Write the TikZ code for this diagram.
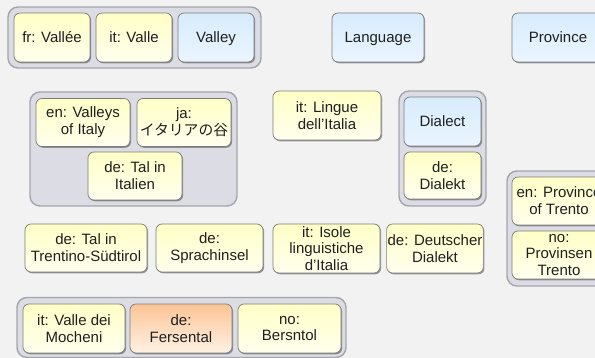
\documentclass[tikz,border=0pt]{standalone}
\usepackage{fontspec}
\setmainfont{Liberation Sans}
\newfontfamily\jafont{Noto Sans CJK JP}
\usetikzlibrary{shadows}
\definecolor{bg}{HTML}{F2F2F2}
\definecolor{ytop}{HTML}{FFFFC6}
\definecolor{ybot}{HTML}{FFFFEE}
\definecolor{btop}{HTML}{D8ECFC}
\definecolor{bbot}{HTML}{EAF5FF}
\definecolor{otop}{HTML}{FCC496}
\definecolor{obot}{HTML}{FFF2E4}
\definecolor{gfill}{HTML}{DCDCE4}
\definecolor{gline}{HTML}{A4A4AC}
\definecolor{nline}{HTML}{7C7C7C}
\tikzset{
  card/.style={draw=nline, line width=0.7pt, rounded corners=6pt, align=center,
    inner sep=1pt, font=\fontsize{15}{16.8}\selectfont, text=black!88,
    drop shadow={shadow xshift=1.1pt, shadow yshift=-1.3pt, fill=black!70, opacity=0.55}},
  ycard/.style={card, top color=ytop, bottom color=ybot},
  bcard/.style={card, top color=btop, bottom color=bbot},
  ocard/.style={card, top color=otop, bottom color=obot},
  oneline/.style={text height=13.4pt, text depth=3.2pt},
  grp/.style={draw=gline, fill=gfill, line width=1.4pt, rounded corners=10pt, inner sep=0pt},
  sz/.style 2 args={minimum width=#1pt, minimum height=#2pt}
}
\begin{document}
\begin{tikzpicture}[x=1pt,y=-1pt]
\useasboundingbox (0,0) rectangle (595,358);
\fill[bg] (0,0) rectangle (595,358);
\clip (0,0) rectangle (595,358);
% groups
\node[grp, sz={253}{61}] (g1) at (134.5,37.5) {};
\node[grp, sz={207}{114}] (g2) at (133.5,149) {};
\node[grp, sz={87}{115}] (g3) at (442.5,148.5) {};
\node[grp, sz={106}{115}] (g4) at (560,228.5) {};
\node[grp, sz={329}{60}] (g5) at (181.5,327.5) {};
% row 1
\node[ycard, oneline, sz={76}{49}] (fr) at (52,37.5) {fr: Vallée};
\node[ycard, oneline, sz={76}{49}] (itvalle) at (134,37.5) {it: Valle};
\node[bcard, oneline, sz={76}{49}] (valley) at (216,37.5) {Valley};
\node[bcard, oneline, sz={92}{49}] (language) at (378,37.5) {Language};
\node[bcard, oneline, sz={92}{49}] (province) at (558,37.5) {Province};
% group 2
\node[ycard, sz={94}{48}] (env) at (83,122.5) {en: Valleys\\of Italy};
\node[ycard, sz={94}{48}] (ja) at (184,122.5) {ja:\\{\jafont\fontsize{14.8}{16.8}\selectfont イタリアの谷}};
\node[ycard, sz={94}{48}] (detalit) at (135,176) {de: Tal in\\Italien};
\node[ycard, sz={108}{49}] (lingue) at (327,115.5) {it: Lingue\\dell'Italia};
\node[bcard, oneline, sz={77}{49}] (dialect) at (442.5,121.5) {Dialect};
\node[ycard, sz={77}{47}] (dedialekt) at (442.5,175.5) {de:\\Dialekt};
\node[ycard, sz={94}{48}] (enprov) at (559,201) {en: Province\\of Trento};
\node[ycard, sz={94}{48}] (noprov) at (559,255) {no:\\Provinsen\\Trento};
% row 4
\node[ycard, sz={122}{48}] (taltrent) at (86,248) {de: Tal in\\Trentino-Südtirol};
\node[ycard, sz={107}{48}] (sprach) at (209.5,248) {de:\\Sprachinsel};
\node[ycard, sz={107}{49}] (isole) at (326.5,248.5) {it: Isole\\linguistiche\\d'Italia};
\node[ycard, sz={92}{49}] (deutscher) at (435,248.5) {de: Deutscher\\Dialekt};
% bottom group
\node[ycard, sz={102}{49}] (mocheni) at (74,328.5) {it: Valle dei\\Mocheni};
\node[ocard, sz={102}{49}] (fersental) at (181,328.5) {de:\\Fersental};
\node[ycard, sz={103}{49}] (bersntol) at (289.5,328.5) {no:\\Bersntol};
\end{tikzpicture}
\end{document}
